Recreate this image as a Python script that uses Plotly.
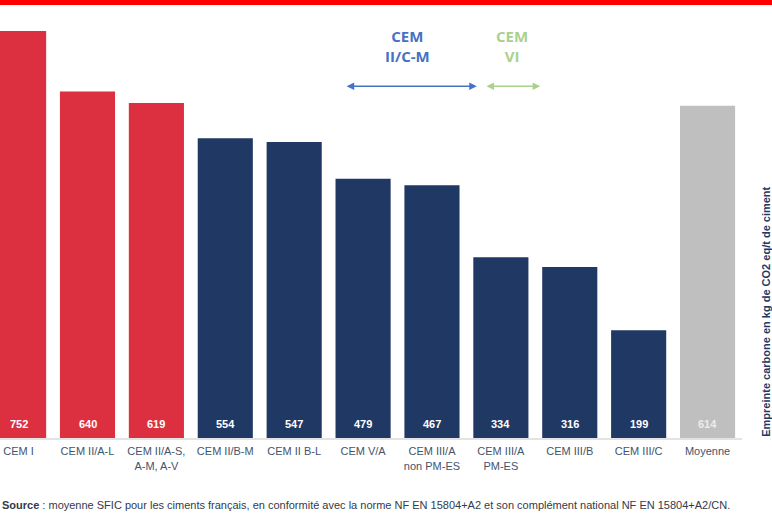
import plotly.graph_objects as go

categories = ["CEM I", "CEM II/A-L", "CEM II/A-S,<br>A-M, A-V", "CEM II/B-M", "CEM II B-L",
              "CEM V/A", "CEM III/A<br>non PM-ES", "CEM III/A<br>PM-ES", "CEM III/B",
              "CEM III/C", "Moyenne"]
values = [752, 640, 619, 554, 547, 479, 467, 334, 316, 199, 614]

RED = "#dc2f3f"
NAVY = "#203864"
GREY = "#bfbfbf"
bar_colors = [RED, RED, RED, NAVY, NAVY, NAVY, NAVY, NAVY, NAVY, NAVY, GREY]
label_colors = ["white"] * 10 + ["#ececec"]

TEXT = "#44546a"
FONT = "Liberation Sans"

x_idx = list(range(len(categories)))

fig = go.Figure(go.Bar(
    x=x_idx, y=values,
    marker=dict(color=bar_colors, line=dict(width=0)),
    hoverinfo="x+y",
))

# value labels at the foot of each bar
for i, v in enumerate(values):
    fig.add_annotation(x=i, y=0, text=f"<b>{v}</b>", showarrow=False,
                       yanchor="bottom", yshift=6,
                       font=dict(color=label_colors[i], size=11, family=FONT))

# CEM II/C-M and CEM VI brackets
fig.add_annotation(x=5.65, y=724, text="<b>CEM<br>II/C-M</b>", showarrow=False,
                   font=dict(color="#4472c4", size=15, family="Open Sans"))
fig.add_annotation(x=7.16, y=724, text="<b>CEM<br>VI</b>", showarrow=False,
                   font=dict(color="#a9d18e", size=15, family="Open Sans"))
fig.add_annotation(x=6.65, y=650, ax=4.74, ay=650, axref="x", ayref="y",
                   text="", showarrow=True, arrowside="end+start", arrowhead=2,
                   arrowsize=1, arrowwidth=1.5, arrowcolor="#4472c4")
fig.add_annotation(x=7.57, y=650, ax=6.77, ay=650, axref="x", ayref="y",
                   text="", showarrow=True, arrowside="end+start", arrowhead=2,
                   arrowsize=1, arrowwidth=1.5, arrowcolor="#a9d18e")

# right-hand axis title
fig.add_annotation(xref="paper", yref="paper", x=1.032, y=0.293,
                   xanchor="center", yanchor="middle",
                   text="<b>Empreinte carbone en kg de CO2 eq/t de ciment</b>",
                   textangle=-90, showarrow=False,
                   font=dict(color=NAVY, size=11, family=FONT))

# source line
fig.add_annotation(xref="paper", yref="paper", x=0, y=-0.156, xanchor="left", yanchor="middle",
                   text="<b>Source</b> : moyenne SFIC pour les ciments français, en conformité avec la norme "
                        "NF EN 15804+A2 et son complément national NF EN 15804+A2/CN.",
                   showarrow=False, font=dict(color="#333a4a", size=11, family=FONT))

# red stripe at the top
fig.add_shape(type="rect", xref="paper", yref="paper", x0=0, x1=772 / 742,
              y0=1 + 3 / 430, y1=1 + 8 / 430, fillcolor="#ff0000", line=dict(width=0))

fig.update_layout(
    width=772, height=523,
    margin=dict(l=0, r=30, t=8, b=85, autoexpand=False),
    plot_bgcolor="white", paper_bgcolor="white",
    bargap=0.2, showlegend=False,
    font=dict(family=FONT, color=TEXT),
)
fig.update_xaxes(range=[-0.27, 10.5], tickmode="array", tickvals=x_idx, ticktext=categories,
                 tickfont=dict(size=11, color=TEXT), showline=True, linecolor="#e3e3e3",
                 linewidth=2, ticks="", showgrid=False, fixedrange=True, automargin=False,
                 ticklabelstandoff=2)
fig.update_yaxes(range=[0, 794.5], visible=False, showgrid=False, fixedrange=True,
                 automargin=False)

fig.write_html("out.html", config={"displayModeBar": False},
               post_script="document.body.style.margin='0';")
